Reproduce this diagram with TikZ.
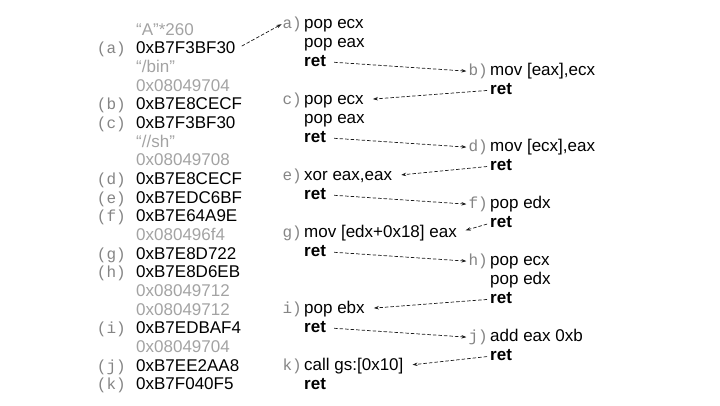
\documentclass[tikz,border=0pt]{standalone}
\usepackage{fontspec}
\setmainfont{Liberation Sans}
\setmonofont{Liberation Mono}
\usetikzlibrary{arrows.meta}
\definecolor{stkgray}{HTML}{A3A3A3}
\definecolor{labgray}{HTML}{858585}
\tikzset{
  code/.style={anchor=base west, inner sep=0pt, text height=12pt, text depth=3.5pt, font=\fontsize{17}{19}\selectfont},
  fill/.style={code, text=stkgray},
  lbl/.style={anchor=base east, inner sep=0pt, text height=12pt, text depth=3.5pt, text=labgray, font=\fontsize{16}{19}\ttfamily},
  hop/.style={-{Stealth[length=5pt,width=3.5pt]}, line width=0.7pt, dash pattern=on 3.5pt off 2pt, black!90},
}
\begin{document}
\begin{tikzpicture}[x=1pt, y=-1pt]
\useasboundingbox (0,0) rectangle (720,405);
% stack contents
\node[fill] (p0) at (136,35) {“A”*260};
\node[code] (sa) at (136,53.7) {0xB7F3BF30};
\node[fill] (p2) at (136,72.4) {“/bin”};
\node[fill] (p3) at (136,91.0) {0x08049704};
\node[code] (sb) at (136,109.7) {0xB7E8CECF};
\node[code] (sc) at (136,128.4) {0xB7F3BF30};
\node[fill] (p6) at (136,147.1) {“//sh”};
\node[fill] (p7) at (136,165.8) {0x08049708};
\node[code] (sd) at (136,184.4) {0xB7E8CECF};
\node[code] (se) at (136,203.1) {0xB7EDC6BF};
\node[code] (sf) at (136,221.8) {0xB7E64A9E};
\node[fill] (p11) at (136,240.5) {0x080496f4};
\node[code] (sg) at (136,259.2) {0xB7E8D722};
\node[code] (sh) at (136,277.8) {0xB7E8D6EB};
\node[fill] (p14) at (136,296.5) {0x08049712};
\node[fill] (p15) at (136,315.2) {0x08049712};
\node[code] (si) at (136,333.9) {0xB7EDBAF4};
\node[fill] (p17) at (136,352.6) {0x08049704};
\node[code] (sj) at (136,371.2) {0xB7EE2AA8};
\node[code] (sk) at (136,389.9) {0xB7F040F5};
% stack labels
\node[lbl] (qa) at (126,53.7) {(a)};
\node[lbl] (qb) at (126,109.7) {(b)};
\node[lbl] (qc) at (126,128.4) {(c)};
\node[lbl] (qd) at (126,184.4) {(d)};
\node[lbl] (qe) at (126,203.1) {(e)};
\node[lbl] (qf) at (126,221.8) {(f)};
\node[lbl] (qg) at (126,259.2) {(g)};
\node[lbl] (qh) at (126,277.8) {(h)};
\node[lbl] (qi) at (126,333.9) {(i)};
\node[lbl] (qj) at (126,371.2) {(j)};
\node[lbl] (qk) at (126,389.9) {(k)};

% gadgets, left column
\node[lbl] (la) at (302,28) {a)};
\node[code] (a1) at (304,28) {pop ecx};
\node[code] (a2) at (304,47) {pop eax};
\node[code] (a3) at (304,66) {\textbf{ret}};
\node[lbl] (lc) at (302,104) {c)};
\node[code] (c1) at (304,104) {pop ecx};
\node[code] (c2) at (304,123) {pop eax};
\node[code] (c3) at (304,142) {\textbf{ret}};
\node[lbl] (le) at (302,180) {e)};
\node[code] (e1) at (304,180) {xor eax,eax};
\node[code] (e2) at (304,199) {\textbf{ret}};
\node[lbl] (lg) at (302,237) {g)};
\node[code] (g1) at (304,237) {mov [edx+0x18] eax};
\node[code] (g2) at (304,256) {\textbf{ret}};
\node[lbl] (li) at (302,313) {i)};
\node[code] (i1) at (304,313) {pop ebx};
\node[code] (i2) at (304,332) {\textbf{ret}};
\node[lbl] (lk) at (302,370) {k)};
\node[code] (k1) at (304,370) {call gs:[0x10]};
\node[code] (k2) at (304,389) {\textbf{ret}};

% gadgets, right column
\node[lbl] (lb) at (488,75.5) {b)};
\node[code] (b1) at (490,75.5) {mov [eax],ecx};
\node[code] (b2) at (490,94.5) {\textbf{ret}};
\node[lbl] (ld) at (488,151.5) {d)};
\node[code] (d1) at (490,151.5) {mov [ecx],eax};
\node[code] (d2) at (490,170.5) {\textbf{ret}};
\node[lbl] (lf) at (488,208.5) {f)};
\node[code] (f1) at (490,208.5) {pop edx};
\node[code] (f2) at (490,227.5) {\textbf{ret}};
\node[lbl] (lh) at (488,265.5) {h)};
\node[code] (h1) at (490,265.5) {pop ecx};
\node[code] (h2) at (490,284.5) {pop edx};
\node[code] (h3) at (490,303.5) {\textbf{ret}};
\node[lbl] (lj) at (488,341.5) {j)};
\node[code] (j1) at (490,341.5) {add eax 0xb};
\node[code] (j2) at (490,360.5) {\textbf{ret}};

% return chain
\draw[hop, shorten <=7pt, shorten >=1pt] (sa.east) -- (la.west);
\draw[hop, shorten <=8pt, shorten >=2pt] (a3.east) -- (lb.west);
\draw[hop, shorten <=3pt, shorten >=9pt] (b2.west) -- (c1.east);
\draw[hop, shorten <=8pt, shorten >=2pt] (c3.east) -- (ld.west);
\draw[hop, shorten <=3pt, shorten >=9pt] (d2.west) -- (e1.east);
\draw[hop, shorten <=8pt, shorten >=2pt] (e2.east) -- (lf.west);
\draw[hop, shorten <=3pt, shorten >=9pt] (f2.west) -- (g1.east);
\draw[hop, shorten <=8pt, shorten >=2pt] (g2.east) -- (lh.west);
\draw[hop, shorten <=3pt, shorten >=9pt] (h3.west) -- (i1.east);
\draw[hop, shorten <=8pt, shorten >=2pt] (i2.east) -- (lj.west);
\draw[hop, shorten <=3pt, shorten >=9pt] (j2.west) -- (k1.east);
\end{tikzpicture}
\end{document}
